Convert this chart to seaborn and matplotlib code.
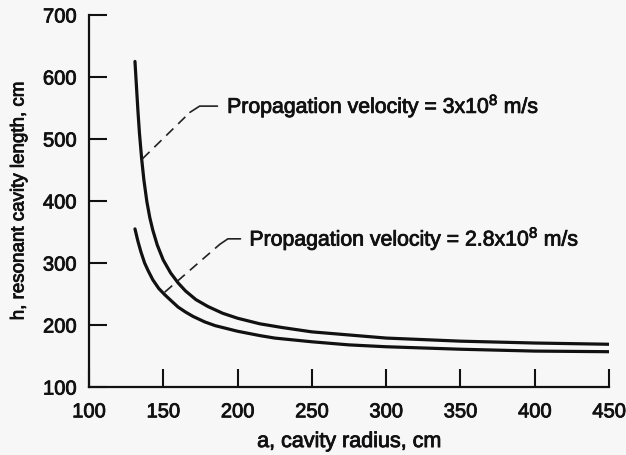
import pandas as pd
import numpy as np
import matplotlib
matplotlib.use("Agg")
import matplotlib.pyplot as plt
import matplotlib.patheffects as pe
import seaborn as sns

# values
radius_fast = [131, 132, 133, 134, 135.5, 137, 139, 141, 143, 146, 150, 155, 160, 165,
               172, 180, 190, 200, 215, 230, 250, 275, 300, 350, 400, 450]
length_fast = [625, 585, 545, 510, 468, 434, 399, 373, 353, 329, 305, 284, 268, 255,
               241, 230, 219, 211, 202, 196, 189, 184, 179, 174, 171, 169]

radius_slow = [131, 133, 135, 137.5, 140, 143, 147, 151, 155, 160, 165, 170, 178, 185,
               200, 215, 225, 250, 275, 300, 350, 400, 450]
length_slow = [355, 335, 318, 300, 287, 273, 259, 249, 240, 229, 221, 214, 205, 199,
               190, 183, 179, 173, 168, 165, 161, 158, 157]

label_fast = "Propagation velocity = 3x10$^8$ m/s"
label_slow = "Propagation velocity = 2.8x10$^8$ m/s"

x_ticks = [100, 150, 200, 250, 300, 350, 400, 450]
y_ticks = [100, 200, 300, 400, 500, 600, 700]

sns.set_style("ticks")
plt.rcParams["font.family"] = ["Liberation Sans", "DejaVu Sans"]
plt.rcParams["mathtext.default"] = "regular"

ink = "#111111"
thick = [pe.withStroke(linewidth=0.6, foreground=ink)]

df_fast = pd.DataFrame({"a": radius_fast, "h": length_fast})
df_slow = pd.DataFrame({"a": radius_slow, "h": length_slow})

fig = plt.figure(figsize=(6.26, 4.56), dpi=100)
fig.patch.set_facecolor("#f7f7f7")
ax = fig.add_axes([0.142, 0.149, 0.831, 0.816])
ax.set_facecolor("#f7f7f7")

sns.lineplot(data=df_fast, x="a", y="h", color=ink, linewidth=2.3, ax=ax)
sns.lineplot(data=df_slow, x="a", y="h", color=ink, linewidth=2.3, ax=ax)

ax.set_xlim(100, 450)
ax.set_ylim(100, 700)
ax.set_xticks(x_ticks)
ax.set_yticks(y_ticks)
ax.tick_params(direction="in", length=13, width=1.5, labelsize=14.5, colors=ink)
ax.tick_params(axis="x", pad=11)
ax.tick_params(axis="y", pad=9)
for s in ["top", "right"]:
    ax.spines[s].set_visible(False)
for s in ["left", "bottom"]:
    ax.spines[s].set_linewidth(1.6)
    ax.spines[s].set_color(ink)
for t in ax.get_xticklabels() + ax.get_yticklabels():
    t.set_path_effects(thick)

ax.set_xlabel("a, cavity radius, cm", fontsize=15.5, color=ink, labelpad=7,
              path_effects=thick)
ax.set_ylabel("h, resonant cavity length, cm", fontsize=13.5, color=ink,
              path_effects=thick)
ax.yaxis.set_label_coords(-0.118, 0.5)

# leader lines and labels
ax.plot([136, 168], [468, 543], color="#222222", linestyle=(0, (6, 4)), linewidth=1.2)
ax.plot([168, 174.5, 186.5], [543, 553, 553], color="#222222", linewidth=1.2)
ax.text(193, 553, label_fast, fontsize=15.3, color=ink, va="center", ha="left",
        path_effects=thick)

ax.plot([151, 188], [253, 330], color="#222222", linestyle=(0, (6, 4)), linewidth=1.2)
ax.plot([188, 193.5, 202], [330, 339, 339], color="#222222", linewidth=1.2)
ax.text(208, 339, label_slow, fontsize=15.3, color=ink, va="center", ha="left",
        path_effects=thick)

plt.savefig("out.png", dpi=100, facecolor=fig.get_facecolor())
